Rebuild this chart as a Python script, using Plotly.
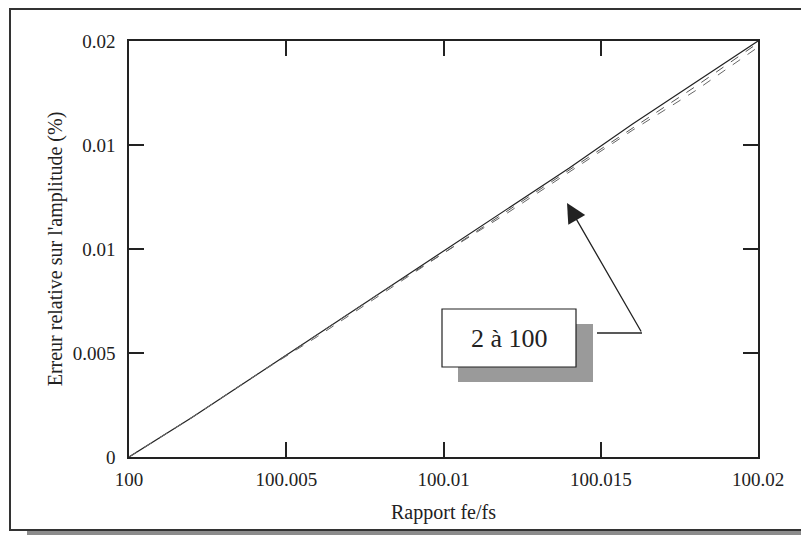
import plotly.graph_objects as go

# ---- data ----
rapport = [100.0, 100.002, 100.004, 100.006, 100.008, 100.010,
           100.012, 100.014, 100.016, 100.018, 100.020]
erreur_a = [0.0, 0.0019, 0.0039, 0.0059, 0.0079, 0.0099,
            0.0119, 0.0139, 0.0160, 0.0180, 0.0200]
erreur_b = [0.0, 0.0019, 0.0039, 0.0059, 0.0079, 0.0098,
            0.0118, 0.0138, 0.0158, 0.0178, 0.0199]
erreur_c = [0.0, 0.0019, 0.0039, 0.0058, 0.0078, 0.0098,
            0.0117, 0.0137, 0.0157, 0.0176, 0.0197]

x_ticks = [100, 100.005, 100.01, 100.015, 100.02]
x_ticklabels = ["100", "100.005", "100.01", "100.015", "100.02"]
y_ticks = [0, 0.005, 0.01, 0.015, 0.02]
y_ticklabels = ["0", "0.005", "0.01", "0.01", "0.02"]

label_text = "2 à 100"

FONT = "Liberation Serif"
OFF = 8  # default page body margin
W, H = 809 - OFF, 535 - OFF
L, R, T, B = 129 - OFF, 51, 41 - OFF, 78
PW, PH = W - L - R, H - T - B


def px(xp):
    # page pixel x -> paper coordinate
    return (xp - OFF - L) / PW


def py(yp):
    # page pixel y -> paper coordinate
    return (H - B - (yp - OFF)) / PH


fig = go.Figure()
fig.add_trace(go.Scatter(x=rapport, y=erreur_a, mode="lines",
                         line=dict(color="#222222", width=1.2)))
fig.add_trace(go.Scatter(x=rapport, y=erreur_b, mode="lines",
                         line=dict(color="#555555", width=1, dash="dash")))
fig.add_trace(go.Scatter(x=rapport, y=erreur_c, mode="lines",
                         line=dict(color="#666666", width=1, dash="dash")))

axis_common = dict(
    showline=True, linecolor="#222222", linewidth=1.5, mirror="ticks",
    ticks="inside", ticklen=15, tickwidth=1.5, tickcolor="#222222",
    showgrid=False, zeroline=False, automargin=False,
    tickfont=dict(family=FONT, size=19, color="#222222"),
    title_font=dict(family=FONT, size=20, color="#222222"),
)

fig.update_xaxes(range=[100, 100.02], tickvals=x_ticks, ticktext=x_ticklabels,
                 ticklabelstandoff=4,
                 title=dict(text="Rapport fe/fs", standoff=16), **axis_common)
fig.update_yaxes(range=[0, 0.02], tickvals=y_ticks, ticktext=y_ticklabels,
                 ticklabelstandoff=8,
                 title=dict(text="Erreur relative sur l'amplitude (%)", standoff=5),
                 **axis_common)

shapes = [
    # outer frame shadow (bottom)
    dict(type="rect", xref="paper", yref="paper",
         x0=px(27), x1=px(815), y0=py(536), y1=py(530),
         fillcolor="#8c8c8c", line=dict(width=0), layer="below"),
    # outer frame
    dict(type="rect", xref="paper", yref="paper",
         x0=px(10), x1=px(830), y0=py(530), y1=py(9),
         line=dict(color="#333333", width=2), fillcolor="rgba(0,0,0,0)",
         layer="below"),
    # label box shadow
    dict(type="rect", xref="paper", yref="paper",
         x0=px(458), x1=px(593), y0=py(382), y1=py(324),
         fillcolor="#9a9a9a", line=dict(width=0)),
    # label box
    dict(type="rect", xref="paper", yref="paper",
         x0=px(442), x1=px(576), y0=py(367), y1=py(309),
         fillcolor="white", line=dict(color="#222222", width=1.2)),
    # horizontal leader line
    dict(type="line", xref="paper", yref="paper",
         x0=px(597), x1=px(642), y0=py(333), y1=py(333),
         line=dict(color="#222222", width=1.3)),
]

annotations = [
    dict(xref="paper", yref="paper", x=px(509), y=py(338), text=label_text,
         showarrow=False, font=dict(family=FONT, size=26, color="#222222"),
         xanchor="center", yanchor="middle"),
    dict(xref="paper", yref="paper", x=px(567), y=py(203),
         axref="pixel", ayref="pixel", ax=642 - 567, ay=333 - 203,
         text="", showarrow=True, arrowhead=2, arrowsize=3,
         arrowwidth=1.3, arrowcolor="#222222"),
]

fig.update_layout(
    width=W, height=H,
    margin=dict(l=L, r=R, t=T, b=B),
    paper_bgcolor="white", plot_bgcolor="white",
    showlegend=False,
    shapes=shapes, annotations=annotations,
    font=dict(family=FONT, color="#222222"),
)

fig.write_html("out.html")
